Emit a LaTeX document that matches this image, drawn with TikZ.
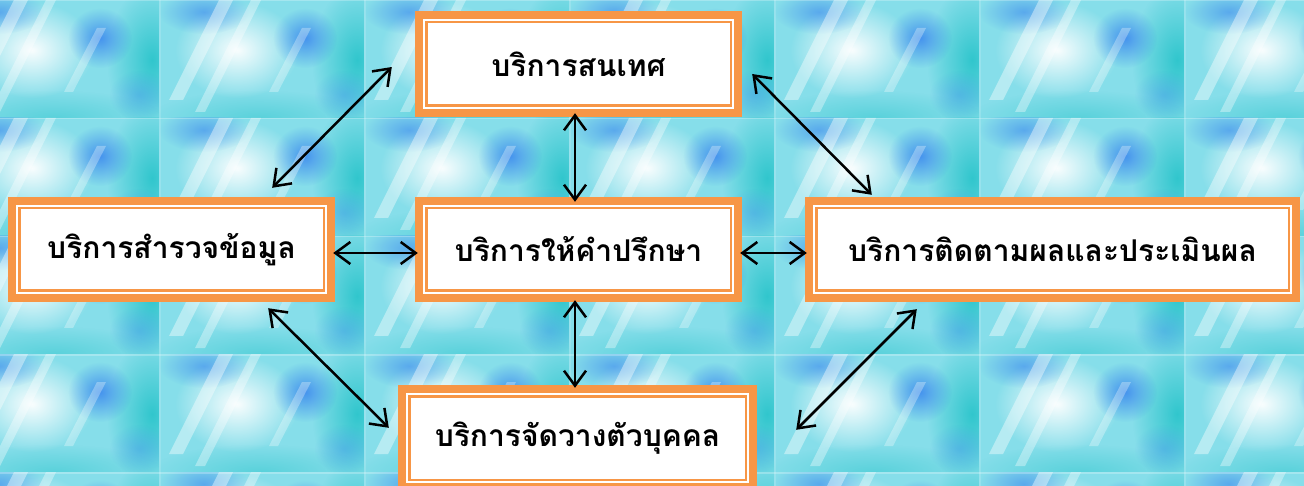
\documentclass[tikz,border=0pt]{standalone}
\usepackage{fontspec}
\newfontfamily\thaifont[Script=Thai]{Loma}
\usetikzlibrary{arrows.meta,calc,fadings}
\definecolor{boxorange}{HTML}{F79646}
\definecolor{bgcyan}{HTML}{86DEEA}
\definecolor{blobblue}{HTML}{3A86EE}
\definecolor{blobteal}{HTML}{22C2C8}
\tikzfading[name=softblob, inner color=transparent!0, outer color=transparent!100]
\tikzset{
  svcbox/.style={draw=none, fill=boxorange, inner sep=0pt,
    font=\thaifont\bfseries\fontsize{30}{36}\selectfont,
    path picture={
      \fill[white] ([shift={(8pt,8pt)}]path picture bounding box.south west) rectangle ([shift={(-8pt,-8pt)}]path picture bounding box.north east);
      \fill[boxorange] ([shift={(10pt,10pt)}]path picture bounding box.south west) rectangle ([shift={(-10pt,-10pt)}]path picture bounding box.north east);
      \fill[white] ([shift={(12.5pt,12.5pt)}]path picture bounding box.south west) rectangle ([shift={(-12.5pt,-12.5pt)}]path picture bounding box.north east);
    }},
  arr/.style={draw=black, line width=2.5pt, {Straight Barb[length=15pt,width=22pt,line width=2.5pt]}-{Straight Barb[length=15pt,width=22pt,line width=2.5pt]}},
  blob/.style={path fading=softblob}
}
\begin{document}
\begin{tikzpicture}[x=1pt,y=-1pt]
\useasboundingbox (0,0) rectangle (1304,486);
\clip (0,0) rectangle (1304,486);
% background tiles
\foreach \i in {0,...,6}{
  \foreach \j in {0,...,4}{
    \begin{scope}[shift={(-46+205*\i,118*\j)}]
      \clip (0,0) rectangle (205,118);
      \fill[bgcyan] (0,0) rectangle (205,118);
      \fill[blobteal, blob, opacity=0.85] (198,60) ellipse (45 and 75);
      \fill[blobteal, blob, opacity=0.45] (100,118) ellipse (110 and 28);
      \fill[white, blob, opacity=0.95] (78,50) ellipse (62 and 48);
      \fill[blobblue, blob, opacity=0.85] (146,38) ellipse (32 and 30);
      \fill[blobblue, blob, opacity=0.6] (45,12) ellipse (45 and 22);
      \fill[blobblue, blob, opacity=0.35] (185,95) ellipse (30 and 25);
      \fill[white, opacity=0.4] (10,100) -- (24,100) -- (74,0) -- (60,0) -- cycle;
      \fill[white, opacity=0.35] (36,112) -- (46,112) -- (102,0) -- (92,0) -- cycle;
      \fill[white, opacity=0.3] (110,92) -- (119,92) -- (152,28) -- (143,28) -- cycle;
      \fill[white, opacity=0.25] (0,0) rectangle (205,1.5);
      \fill[white, opacity=0.15] (0,0) rectangle (1.5,118);
    \end{scope}
  }
}
% boxes
\node[svcbox, minimum width=327pt, minimum height=106pt] (T) at (578.5,64) {บริการสนเทศ};
\node[svcbox, minimum width=327pt, minimum height=105pt] (L) at (171.5,249.5) {บริการสำรวจข้อมูล};
\node[svcbox, minimum width=327pt, minimum height=105pt] (C) at (578.5,249.5) {บริการให้คำปรึกษา};
\node[svcbox, minimum width=495pt, minimum height=105pt] (R) at (1052.5,249.5) {บริการติดตามผลและประเมินผล};
\node[svcbox, minimum width=359pt, minimum height=106pt] (B) at (577.5,438) {บริการจัดวางตัวบุคคล};
% connectors
\draw[arr] ([xshift=-63pt,yshift=9pt]L.north east) -- ([xshift=-23pt,yshift=-3pt]T.west);
\draw[arr] ([xshift=10pt,yshift=-10pt]T.east) -- ([xshift=67pt,yshift=2pt]R.north west);
\draw[arr] ([xshift=-67pt,yshift=-6pt]L.south east) -- ([xshift=-9pt,yshift=-43pt]B.north west);
\draw[arr] ([xshift=112pt,yshift=-7pt]R.south west) -- ([xshift=39pt,yshift=-45pt]B.north east);
\draw[arr] ([xshift=-2pt,yshift=-3.5pt]L.east) -- ([xshift=3pt,yshift=-3.5pt]C.west);
\draw[arr] ([xshift=-2pt,yshift=-3.5pt]C.east) -- ([xshift=2pt,yshift=-3.5pt]R.west);
\draw[arr] ([xshift=-3.5pt,yshift=4pt]T.south) -- ([xshift=-3.5pt,yshift=-5pt]C.north);
\draw[arr] ([xshift=-3.5pt,yshift=2pt]C.south) -- ([xshift=-2.5pt,yshift=-3pt]B.north);
\end{tikzpicture}
\end{document}
